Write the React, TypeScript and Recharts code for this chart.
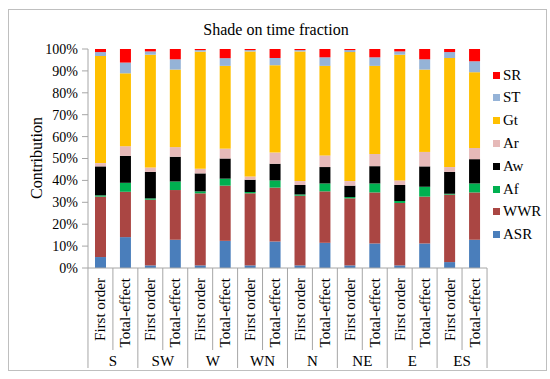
import { Bar, BarChart, XAxis, YAxis } from "recharts";

const groups = ["S", "SW", "W", "WN", "N", "NE", "E", "ES"];
const indices = ["First order", "Total-effect"];

// segment shares (%) per bar, in bar order S-FO, S-TE, SW-FO, SW-TE, ...
const asr = [5.0, 14.1, 1.2, 12.9, 1.2, 12.4, 1.2, 12.1, 1.2, 11.5, 1.2, 11.2, 1.2, 11.2, 2.7, 12.9];
const wwr = [27.6, 20.7, 30.0, 22.7, 32.9, 25.2, 32.9, 24.6, 31.8, 23.5, 30.6, 23.3, 28.5, 21.4, 30.8, 21.6];
const af = [0.6, 4.1, 0.6, 3.9, 0.9, 3.2, 0.6, 3.3, 0.6, 3.6, 0.6, 4.1, 0.9, 4.5, 0.4, 4.1];
const aw = [13.2, 12.3, 12.1, 11.3, 8.2, 9.2, 5.6, 7.6, 4.3, 7.5, 5.2, 7.9, 7.3, 9.3, 10.0, 11.1];
const ar = [1.5, 4.4, 2.0, 4.4, 2.1, 4.5, 1.5, 5.1, 1.8, 5.3, 2.1, 5.6, 2.1, 6.6, 2.2, 5.1];
const gt = [48.9, 33.3, 51.5, 35.4, 53.5, 37.8, 57.1, 39.9, 59.2, 40.9, 58.9, 40.2, 57.4, 37.6, 49.8, 34.6];
const st = [1.8, 4.9, 1.5, 4.7, 0.7, 3.5, 0.6, 3.3, 0.6, 3.9, 0.9, 3.9, 1.5, 4.7, 2.7, 5.0];
const sr = [1.4, 6.2, 1.1, 4.7, 0.5, 4.2, 0.5, 4.1, 0.5, 3.8, 0.5, 3.8, 1.1, 4.7, 1.4, 5.6];

const yTicks = [0, 0.1, 0.2, 0.3, 0.4, 0.5, 0.6, 0.7, 0.8, 0.9, 1];

const series = [
  { key: "ASR", values: asr, color: "#4A7EBB" },
  { key: "WWR", values: wwr, color: "#AA4643" },
  { key: "Af", values: af, color: "#00B050" },
  { key: "Aw", values: aw, color: "#000000" },
  { key: "Ar", values: ar, color: "#E6B9B8" },
  { key: "Gt", values: gt, color: "#FFC000" },
  { key: "ST", values: st, color: "#95B3D7" },
  { key: "SR", values: sr, color: "#FF0000" },
];

const data = groups.flatMap((g, gi) =>
  indices.map((label, ii) => {
    const i = gi * 2 + ii;
    const row: Record<string, string | number> = { name: `${g}-${label}`, group: g, label };
    for (const s of series) row[s.key] = s.values[i];
    return row;
  })
);

const FONT = "Liberation Serif, DejaVu Serif, serif";
const AXIS = "#A6A6A6";
const SLOT = 25;

function CategoryTick(props: any) {
  const { x, y, payload } = props;
  const index = props.index ?? payload.index;
  const row = data[index];
  const half = SLOT / 2;
  const first = index % 2 === 0;
  return (
    <g>
      <line x1={x - half} x2={x - half} y1={y} y2={y + (first ? 100 : 82)} stroke={AXIS} />
      {index === data.length - 1 ? (
        <line x1={x + half} x2={x + half} y1={y} y2={y + 100} stroke={AXIS} />
      ) : null}
      <text
        transform={`translate(${x},${y + 10}) rotate(-90)`}
        textAnchor="end"
        dominantBaseline="central"
        fontSize={15}
        fontFamily={FONT}
        fill="#000"
      >
        {row.label}
      </text>
      {first ? (
        <text
          x={x + half}
          y={y + 93}
          textAnchor="middle"
          dominantBaseline="central"
          fontSize={15}
          fontFamily={FONT}
          fill="#000"
        >
          {row.group}
        </text>
      ) : null}
    </g>
  );
}

export default function App() {
  const legend = [...series].reverse();
  return (
    <div style={{ position: "absolute", left: 0, top: 0, width: 550, height: 379, background: "#fff" }}>
      <div
        style={{
          position: "absolute",
          left: 8,
          top: 9,
          width: 537,
          height: 360,
          border: "1px solid #BFBFBF",
        }}
      />
      <div
        style={{
          position: "absolute",
          left: 0,
          width: 552,
          top: 20,
          textAlign: "center",
          fontFamily: FONT,
          fontSize: 16,
          lineHeight: "20px",
        }}
      >
        Shade on time fraction
      </div>
      <div style={{ position: "absolute", left: 0, top: 0 }}>
        <BarChart
          width={550}
          height={379}
          data={data}
          stackOffset="expand"
          barSize={11}
          margin={{ top: 49, right: 63, bottom: 0, left: 0 }}
        >
          <XAxis
            dataKey="name"
            interval={0}
            height={111}
            tickSize={0}
            tickMargin={0}
            tickLine={false}
            axisLine={{ stroke: AXIS }}
            tick={<CategoryTick />}
          />
          <YAxis
            type="number"
            domain={[0, 1]}
            ticks={yTicks}
            width={88}
            tickSize={6}
            tickMargin={4}
            axisLine={{ stroke: AXIS }}
            tickLine={{ stroke: AXIS }}
            tick={{ fontSize: 14, fontFamily: FONT, fill: "#000" }}
            tickFormatter={(v: number) => `${Math.round(v * 100)}%`}
            label={{
              content: () => (
                <text
                  transform="translate(36,158) rotate(-90)"
                  textAnchor="middle"
                  dominantBaseline="central"
                  fontSize={16}
                  fontFamily={FONT}
                  fill="#000"
                >
                  Contribution
                </text>
              ),
            }}
          />
          {series.map((s) => (
            <Bar key={s.key} dataKey={s.key} stackId="a" fill={s.color} isAnimationActive={false} />
          ))}
        </BarChart>
      </div>
      {legend.map((s, i) => (
        <div
          key={s.key}
          style={{
            position: "absolute",
            left: 493,
            top: 75 + i * 22.8 - 10,
            height: 20,
            display: "flex",
            alignItems: "center",
            fontFamily: FONT,
            fontSize: 15,
          }}
        >
          <span style={{ width: 7, height: 7, background: s.color, marginRight: 3 }} />
          {s.key}
        </div>
      ))}
    </div>
  );
}
